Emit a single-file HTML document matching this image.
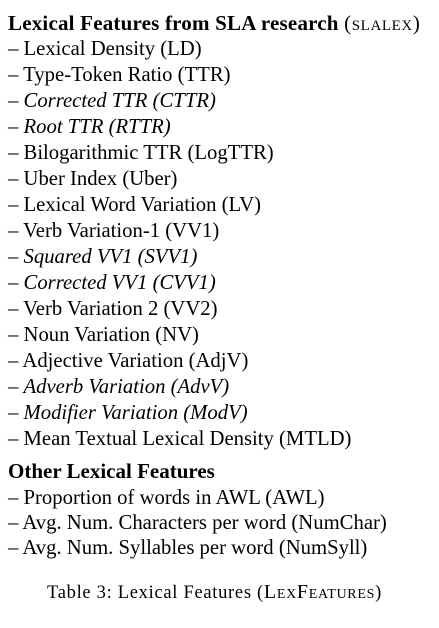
<!DOCTYPE html>
<html><head><meta charset="utf-8"><style>
html,body{margin:0;padding:0;background:#fff;}
body{width:439px;height:628px;position:relative;overflow:hidden;font-family:"Liberation Serif",serif;color:#000;}
.l{position:absolute;left:8px;font-size:20.7px;line-height:23px;white-space:nowrap;}
.b{font-weight:bold;font-size:21px;}
.sc{font-variant:small-caps;}
.cap{position:absolute;left:47px;font-size:18.5px;line-height:20px;white-space:nowrap;letter-spacing:0.7px;}
</style></head><body>
<div class="l b" style="top:12px;letter-spacing:0.2px">Lexical Features from SLA research <span class="sc" style="font-weight:normal;letter-spacing:0.6px">(slalex)</span></div>
<div class="l" style="top:38px">– Lexical Density (LD)</div>
<div class="l" style="top:64px">– Type-Token Ratio (TTR)</div>
<div class="l" style="top:90px">– <i>Corrected TTR (CTTR)</i></div>
<div class="l" style="top:116px">– <i>Root TTR (RTTR)</i></div>
<div class="l" style="top:142px">– Bilogarithmic TTR (LogTTR)</div>
<div class="l" style="top:168px">– Uber Index (Uber)</div>
<div class="l" style="top:194px">– Lexical Word Variation (LV)</div>
<div class="l" style="top:220px">– Verb Variation-1 (VV1)</div>
<div class="l" style="top:246px">– <i>Squared VV1 (SVV1)</i></div>
<div class="l" style="top:272px">– <i>Corrected VV1 (CVV1)</i></div>
<div class="l" style="top:298px">– Verb Variation 2 (VV2)</div>
<div class="l" style="top:324px">– Noun Variation (NV)</div>
<div class="l" style="top:350px">– Adjective Variation (AdjV)</div>
<div class="l" style="top:376px">– <i>Adverb Variation (AdvV)</i></div>
<div class="l" style="top:402px">– <i>Modifier Variation (ModV)</i></div>
<div class="l" style="top:428px">– Mean Textual Lexical Density (MTLD)</div>
<div class="l b" style="top:460px">Other Lexical Features</div>
<div class="l" style="top:487px">– Proportion of words in AWL (AWL)</div>
<div class="l" style="top:512px">– Avg. Num. Characters per word (NumChar)</div>
<div class="l" style="top:537px">– Avg. Num. Syllables per word (NumSyll)</div>
<div class="cap" style="top:582px">Table 3: Lexical Features (<span class="sc" style="font-size:20px">LexFeatures</span>)</div>
</body></html>
